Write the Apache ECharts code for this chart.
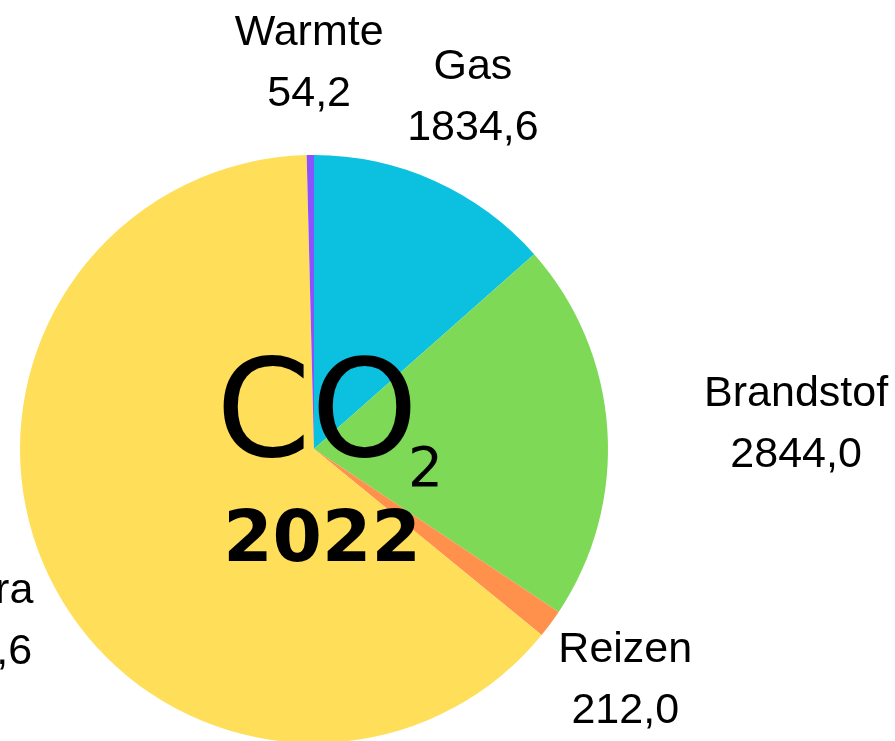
<!DOCTYPE html>
<html>
<head>
<meta charset="utf-8">
<script src="https://cdn.jsdelivr.net/npm/echarts@6/dist/echarts.min.js"></script>
<style>
  html, body { margin: 0; padding: 0; background: #fff; }
  #JS_PieChart { width: 895px; height: 741px; }
</style>
</head>
<body>
<div id="JS_PieChart"></div>
<script>
// CO2 2022 per bron
const categories = ["Gas", "Brandstof", "Reizen", "Elektra", "Warmte"];
const values = [1834.6, 2844.0, 212.0, 8675.6, 54.2];
const colors = ["#0cc0df", "#7ed957", "#ff914d", "#ffde59", "#8c52ff"];
const title = "CO";
const titleSub = "2";
const year = "2022";

const cx = 314;
const cy = 449;
const radius = 294;
const labelDist = 387;

function fmt(v) {
  return v.toFixed(1).replace(".", ",");
}

// mid angle (degrees clockwise from top) of each slice, from the values
function midAngle(idx) {
  const total = values.reduce((a, b) => a + b, 0);
  let before = 0;
  for (let i = 0; i < idx; i++) before += values[i];
  return ((before + values[idx] / 2) / total) * 360;
}

let option;

function initOpt() {
  option = {
    animation: false,
    color: colors,
    graphic: [
      {
        type: "text",
        z: 100,
        x: 216,
        y: 421,
        style: {
          text: title,
          font: "136px 'DejaVu Sans'",
          fill: "#000",
          verticalAlign: "middle",
        },
      },
      {
        type: "text",
        z: 100,
        x: 408,
        y: 472,
        style: {
          text: titleSub,
          font: "55px 'DejaVu Sans'",
          fill: "#000",
          verticalAlign: "middle",
        },
      },
      {
        type: "text",
        z: 100,
        x: 322,
        y: 543,
        style: {
          text: year,
          font: "bold 71px 'DejaVu Sans'",
          fill: "#000",
          align: "center",
          verticalAlign: "middle",
        },
      },
    ],
    series: [
      {
        type: "pie",
        center: [cx, cy],
        radius: radius,
        startAngle: 90,
        clockwise: true,
        avoidLabelOverlap: false,
        data: categories.map((name, i) => ({ name: name, value: values[i] })),
        label: {
          show: true,
          position: "outside",
          formatter: (p) => p.name + "\n" + fmt(p.value),
          fontFamily: "'Liberation Sans', Arial, sans-serif",
          fontSize: 43,
          lineHeight: 61,
          color: "#000",
        },
        labelLine: { show: false },
        labelLayout: function (params) {
          const a = (midAngle(params.dataIndex) * Math.PI) / 180;
          let x = cx + labelDist * Math.sin(a);
          const y = cy - labelDist * Math.cos(a) + 2;
          // Brandstof label sits further out, clear of the pie edge
          if (categories[params.dataIndex] === "Brandstof") x += 96;
          return { x: x, y: y, align: "center", verticalAlign: "middle" };
        },
        itemStyle: { borderWidth: 0 },
        emphasis: { disabled: true },
      },
    ],
  };
}

function initView() {
  initOpt();
  const chartDom = document.getElementById("JS_PieChart");
  const pieChart = echarts.init(chartDom);
  option && pieChart.setOption(option);
}

initView();
</script>
</body>
</html>
